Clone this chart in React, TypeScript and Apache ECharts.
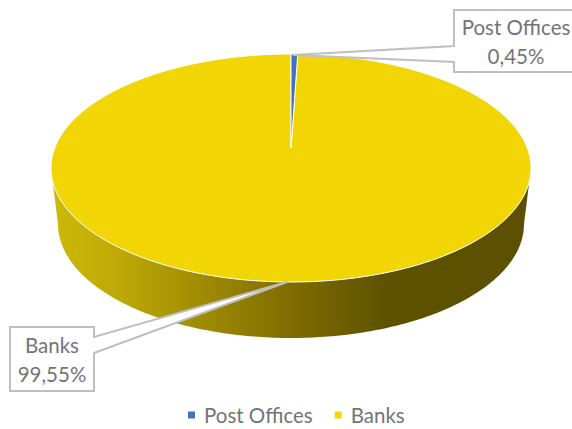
import React, { useEffect, useRef } from "react";
import * as echarts from "echarts";

const categories = ["Post Offices", "Banks"];
const shares = [0.45, 99.55];
const shareLabels = ["0,45%", "99,55%"];
const colors = ["#4272BC", "#F2D505"];

const FONT = "Lato";
const TEXT = "#737477";
const top = { cx: 291, cy: 168, rx: 240, ry: 114 };
const bottom = { cx: 291, cy: 224, rx: 233, ry: 114 };
const apex: [number, number] = [291, 148];

const callouts = [
  { x: 454, y: 10, w: 130, h: 62, tx: 516, tip: [293, 55], a: [454, 46], b: [454, 62] },
  { x: 10, y: 327, w: 84, h: 64, tx: 52, tip: [287, 282], a: [94, 337], b: [94, 353] },
];

const pt = (e: typeof top, t: number): [number, number] => [
  e.cx + e.rx * Math.sin(t),
  e.cy - e.ry * Math.cos(t),
];

const arc = (e: typeof top, t0: number, t1: number) => {
  const n = Math.max(2, Math.ceil(Math.abs(t1 - t0) * 60));
  const out: [number, number][] = [];
  for (let i = 0; i <= n; i++) out.push(pt(e, t0 + ((t1 - t0) * i) / n));
  return out;
};

const total = shares.reduce((a, b) => a + b, 0);

const makeRender = (index: number) => (_params: any, api: any) => {
  const before = shares.slice(0, index).reduce((a, b) => a + b, 0);
  const t0 = (before / total) * Math.PI * 2;
  const t1 = t0 + (api.value(0) / total) * Math.PI * 2;
  const children: any[] = [];

  const w0 = Math.max(t0, Math.PI / 2);
  const w1 = Math.min(t1, (Math.PI * 3) / 2);
  if (w1 > w0) {
    children.push({
      type: "polygon",
      shape: { points: [...arc(top, w0, w1), ...arc(bottom, w1, w0)] },
      style: {
        fill: {
          type: "linear",
          x: 0,
          y: 0,
          x2: 1,
          y2: 0,
          colorStops: [
            { offset: 0, color: "#CDB906" },
            { offset: 0.14, color: "#BEA906" },
            { offset: 0.5, color: "#7F6C00" },
            { offset: 0.7, color: "#5E5200" },
            { offset: 1, color: "#5C5000" },
          ],
        },
      },
    });
  }

  children.push({
    type: "polygon",
    shape: { points: [apex, ...arc(top, t0, t1)] },
    style: { fill: colors[index], stroke: "#FFFFFF", lineWidth: 1 },
  });

  const c = callouts[index];
  children.push({
    type: "polygon",
    shape: {
      points: [
        [c.x, c.y],
        [c.x + c.w, c.y],
        ...(index === 1 ? [c.a, c.tip, c.b] : []),
        [c.x + c.w, c.y + c.h],
        [c.x, c.y + c.h],
        ...(index === 0 ? [c.b, c.tip, c.a] : []),
      ],
    },
    style: { fill: "#FFFFFF", stroke: "#BFBFBF", lineWidth: 2 },
  });
  children.push({
    type: "text",
    style: {
      x: c.tx,
      y: c.y + c.h / 2,
      text: `${categories[index]}\n${shareLabels[index]}`,
      fill: TEXT,
      font: `20.5px ${FONT}`,
      lineHeight: 29,
      align: "center",
      verticalAlign: "middle",
    },
  });
  return { type: "group", children };
};

export default function App() {
  const ref = useRef<HTMLDivElement>(null);
  useEffect(() => {
    document.body.style.margin = "0";
    const chart = echarts.init(ref.current!, null, { renderer: "svg" });
    chart.setOption({
      animation: false,
      backgroundColor: "#FFFFFF",
      legend: {
        data: categories,
        left: 183,
        top: 399,
        icon: "rect",
        itemWidth: 7,
        itemHeight: 7,
        itemGap: 22,
        textStyle: {
          color: TEXT,
          fontSize: 20.5,
          fontFamily: FONT,
          lineHeight: 22,
          padding: [0, 0, 0, 4],
        },
        selectedMode: false,
      },
      series: categories.map((name, i) => ({
        type: "custom",
        name,
        coordinateSystem: "none",
        silent: true,
        z: 3 - i,
        itemStyle: { color: colors[i] },
        data: [[shares[i]]],
        renderItem: makeRender(i),
      })),
    });
    return () => chart.dispose();
  }, []);
  return <div ref={ref} style={{ width: 572, height: 429, overflow: "hidden" }} />;
}
